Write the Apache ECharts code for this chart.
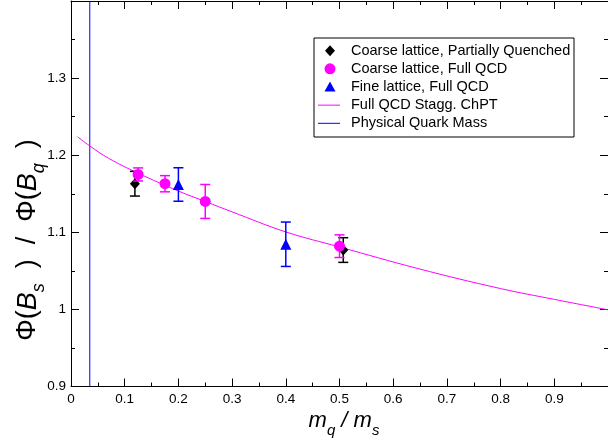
<!DOCTYPE html>
<html>
<head>
<meta charset="utf-8">
<script src="https://cdn.jsdelivr.net/npm/echarts@6/dist/echarts.min.js"></script>
<style>
html,body{margin:0;padding:0;background:#fff;}
#chart{width:608px;height:443px;}
</style>
</head>
<body>
<div id="chart"></div>
<script>
// ---- data ----
const seriesNames = ['Coarse lattice, Partially Quenched', 'Coarse lattice, Full QCD', 'Fine lattice, Full QCD', 'Full QCD Stagg. ChPT', 'Physical Quark Mass'];

const pqX = [0.119, 0.507];
const pqY = [1.163, 1.077];
const pqErr = [0.016, 0.016];

const fullX = [0.125, 0.175, 0.25, 0.5];
const fullY = [1.175, 1.163, 1.140, 1.082];
const fullErr = [0.0085, 0.0105, 0.022, 0.0147];

const fineX = [0.2, 0.4];
const fineY = [1.162, 1.0845];
const fineErr = [0.0217, 0.0288];

const chptX = [0.012, 0.035, 0.07, 0.124, 0.2, 0.25, 0.3, 0.4, 0.5, 0.646, 0.8, 0.9, 1.0];
const chptY = [1.224, 1.212, 1.196, 1.177, 1.1535, 1.140, 1.1265, 1.1005, 1.081, 1.053, 1.027, 1.013, 0.9995];

const physX = [0.035, 0.035];
const physY = [0.9, 1.4];

const xTicks = [0, 0.1, 0.2, 0.3, 0.4, 0.5, 0.6, 0.7, 0.8, 0.9];
const yTicks = [0.9, 1, 1.1, 1.2, 1.3];

// ---- helpers ----
const zip = (xs, ys) => xs.map((x, i) => [x, ys[i]]);
const zip3 = (xs, ys, es) => xs.map((x, i) => [x, ys[i], es[i]]);

function errRender(color) {
  return function (params, api) {
    const x = api.value(0), y = api.value(1), e = api.value(2);
    const lo = api.coord([x, y - e]);
    const hi = api.coord([x, y + e]);
    const hw = 5;
    const st = { stroke: color, lineWidth: 1.5 };
    return {
      type: 'group',
      children: [
        { type: 'line', shape: { x1: lo[0], y1: lo[1], x2: hi[0], y2: hi[1] }, style: st },
        { type: 'line', shape: { x1: lo[0] - hw, y1: lo[1], x2: lo[0] + hw, y2: lo[1] }, style: st },
        { type: 'line', shape: { x1: hi[0] - hw, y1: hi[1], x2: hi[0] + hw, y2: hi[1] }, style: st }
      ]
    };
  };
}

const FONT = 'Liberation Sans, Arial, sans-serif';
const inList = (list, v) => { const r = Math.round(v * 10) / 10; return list.some(t => Math.abs(t - r) < 1e-9) && Math.abs(v - r) < 1e-6 ? String(r) : ''; };
const fmtX = v => inList(xTicks, v);
const fmtY = v => inList(yTicks, v);

const axisLineStyle = { color: '#000', width: 1 };

// legend layout (graphic)
const LG = { boxX: 314, boxY: 38, boxW: 260, boxH: 99, symX: 330, textX: 351, row0: 50.7, rowGap: 18.15 };
const legendGraphics = [
  { type: 'rect', z: 20, shape: { x: LG.boxX, y: LG.boxY, width: LG.boxW, height: LG.boxH }, style: { fill: '#fff', stroke: '#000', lineWidth: 1 } }
];
(function () {
  const r = i => LG.row0 + i * LG.rowGap;
  // diamond
  legendGraphics.push({ type: 'polygon', z: 21, shape: { points: [[LG.symX, r(0) - 5.5], [LG.symX + 5, r(0)], [LG.symX, r(0) + 5.5], [LG.symX - 5, r(0)]] }, style: { fill: '#000' } });
  // circle
  legendGraphics.push({ type: 'circle', z: 21, shape: { cx: LG.symX, cy: r(1), r: 5.5 }, style: { fill: '#ff00ff' } });
  // triangle
  legendGraphics.push({ type: 'polygon', z: 21, shape: { points: [[LG.symX, r(2) - 5.5], [LG.symX + 5.5, r(2) + 4.5], [LG.symX - 5.5, r(2) + 4.5]] }, style: { fill: '#0000ff' } });
  // lines
  legendGraphics.push({ type: 'line', z: 21, shape: { x1: 318, y1: r(3), x2: 340, y2: r(3) }, style: { stroke: '#ff00ff', lineWidth: 1 } });
  legendGraphics.push({ type: 'line', z: 21, shape: { x1: 318, y1: r(4), x2: 340, y2: r(4) }, style: { stroke: '#0000ff', lineWidth: 1 } });
  seriesNames.forEach((n, i) => {
    legendGraphics.push({ type: 'text', z: 21, x: LG.textX, y: r(i), style: { text: n, fill: '#000', font: '14.5px ' + FONT, textAlign: 'left', textVerticalAlign: 'middle' } });
  });
})();

const chart = echarts.init(document.getElementById('chart'), null, { renderer: 'canvas' });
chart.setOption({
  animation: false,
  backgroundColor: '#fff',
  grid: { left: 71, top: 1, width: 540, height: 385.5, containLabel: false },
  xAxis: [
    {
      type: 'value', min: 0, max: 1, interval: 0.1, position: 'bottom',
      axisLine: { show: true, onZero: false, lineStyle: axisLineStyle },
      axisTick: { show: true, inside: true, length: 8, lineStyle: axisLineStyle },
      minorTick: { show: true, splitNumber: 2, length: 4, lineStyle: axisLineStyle },
      splitLine: { show: false },
      axisLabel: { margin: 6, color: '#000', fontSize: 13.5, fontFamily: FONT, formatter: fmtX, showMaxLabel: false }
    },
    {
      type: 'value', min: 0, max: 1, interval: 0.1, position: 'top',
      axisLine: { show: true, onZero: false, lineStyle: axisLineStyle },
      axisTick: { show: true, inside: true, length: 8, lineStyle: axisLineStyle },
      minorTick: { show: true, splitNumber: 2, length: 4, lineStyle: axisLineStyle },
      splitLine: { show: false },
      axisLabel: { show: false }
    }
  ],
  yAxis: [
    {
      type: 'value', min: 0.9, max: 1.4, interval: 0.1, position: 'left',
      axisLine: { show: true, onZero: false, lineStyle: axisLineStyle },
      axisTick: { show: true, inside: true, length: 8, lineStyle: axisLineStyle },
      minorTick: { show: true, splitNumber: 2, length: 4, lineStyle: axisLineStyle },
      splitLine: { show: false },
      axisLabel: { margin: 5, color: '#000', fontSize: 13.5, fontFamily: FONT, formatter: fmtY, showMaxLabel: false }
    },
    {
      type: 'value', min: 0.9, max: 1.4, interval: 0.1, position: 'right',
      axisLine: { show: true, onZero: false, lineStyle: axisLineStyle },
      axisTick: { show: true, inside: true, length: 8, lineStyle: axisLineStyle },
      minorTick: { show: true, splitNumber: 2, length: 4, lineStyle: axisLineStyle },
      splitLine: { show: false },
      axisLabel: { show: false }
    }
  ],
  graphic: legendGraphics.concat([
    {
      type: 'text', z: 5, x: 28, y: 240, rotation: Math.PI / 2,
      style: {
        text: '{n|Φ(}{i|B}{s|s}{n|  )  /  Φ(}{i|B}{s|q}{n|  )}',
        align: 'center', verticalAlign: 'middle', fill: '#000',
        rich: {
          n: { fontSize: 27, fontFamily: FONT, lineHeight: 34, verticalAlign: 'middle', fill: '#000' },
          i: { fontSize: 27, fontFamily: FONT, fontStyle: 'italic', lineHeight: 34, verticalAlign: 'middle', fill: '#000' },
          s: { fontSize: 18, fontFamily: FONT, fontStyle: 'italic', lineHeight: 18, verticalAlign: 'bottom', padding: [0, 0, -3, 0], fill: '#000' }
        }
      }
    },
    {
      type: 'text', z: 5, x: 344, y: 421,
      style: {
        text: '{i|m}{s|q}{i| / m}{s|s}',
        align: 'center', verticalAlign: 'middle', fill: '#000',
        rich: {
          i: { fontSize: 22, fontFamily: FONT, fontStyle: 'italic', lineHeight: 28, verticalAlign: 'middle', fill: '#000' },
          s: { fontSize: 15, fontFamily: FONT, fontStyle: 'italic', lineHeight: 15, verticalAlign: 'bottom', padding: [0, 0, -3, 0], fill: '#000' }
        }
      }
    }
  ]),
  series: [
    {
      name: seriesNames[4], type: 'line', data: zip(physX, physY), symbol: 'none',
      lineStyle: { color: '#0000ff', width: 1 }, itemStyle: { color: '#0000ff' }, z: 2, clip: true
    },
    {
      name: seriesNames[3], type: 'line', data: zip(chptX, chptY), symbol: 'none', smooth: 0.4,
      lineStyle: { color: '#ff00ff', width: 1 }, itemStyle: { color: '#ff00ff' }, z: 2, clip: true
    },
    { name: 'pqErr', type: 'custom', data: zip3(pqX, pqY, pqErr), encode: { x: 0, y: 1 }, renderItem: errRender('#000'), z: 3 },
    {
      name: seriesNames[0], type: 'scatter', data: zip(pqX, pqY), symbol: 'diamond', symbolSize: [10, 11],
      itemStyle: { color: '#000', opacity: 1 }, z: 4
    },
    { name: 'fullErr', type: 'custom', data: zip3(fullX, fullY, fullErr), encode: { x: 0, y: 1 }, renderItem: errRender('#ff00ff'), z: 5 },
    {
      name: seriesNames[1], type: 'scatter', data: zip(fullX, fullY), symbol: 'circle', symbolSize: 11,
      itemStyle: { color: '#ff00ff', opacity: 1 }, z: 6
    },
    { name: 'fineErr', type: 'custom', data: zip3(fineX, fineY, fineErr), encode: { x: 0, y: 1 }, renderItem: errRender('#0000ff'), z: 5 },
    {
      name: seriesNames[2], type: 'scatter', data: zip(fineX, fineY), symbol: 'triangle', symbolSize: 11,
      itemStyle: { color: '#0000ff', opacity: 1 }, z: 6
    }
  ]
});
</script>
</body>
</html>
